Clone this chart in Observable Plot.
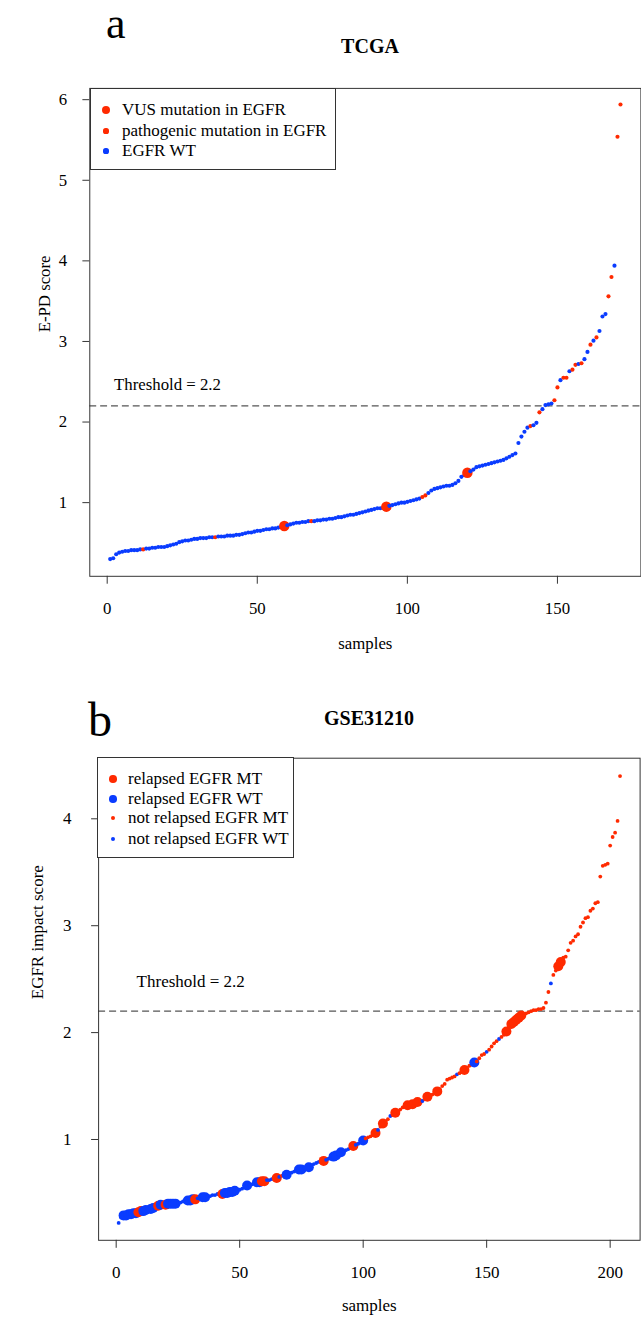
<!DOCTYPE html>
<html>
<head>
<meta charset="utf-8">
<script src="https://cdn.jsdelivr.net/npm/d3@7"></script>
<script src="https://cdn.jsdelivr.net/npm/@observablehq/plot@0.6"></script>
<style>
  html, body { margin: 0; padding: 0; background: #fff; }
  body { width: 641px; height: 1320px; position: relative; overflow: hidden; font-family: "Liberation Serif", "Times New Roman", serif; color: #000; }
  .abs { position: absolute; line-height: 0; white-space: nowrap; }
  .legend { position: absolute; border: 1px solid #333; background: #fff; box-sizing: border-box; }
  .legend .sym { position: absolute; border-radius: 50%; }
  .legend .lab { position: absolute; line-height: 0; font-size: 17px; white-space: nowrap; }
  #panelA, #panelB { position: absolute; left: 0; width: 641px; overflow: hidden; }
  #panelA { top: 0; height: 690px; }
  #panelB { top: 690px; height: 630px; }
</style>
</head>
<body>
<div id="panelA"></div>
<div id="panelB"></div>
<script>
// ---------- Panel a: TCGA (sorted E-PD scores, samples 1..171) ----------
const tcgaScores = [
  0.30,0.31,0.36,0.38,0.39,0.40,0.40,0.41,0.41,0.41,
  0.42,0.42,0.43,0.43,0.44,0.44,0.45,0.45,0.45,0.46,
  0.47,0.48,0.49,0.51,0.52,0.53,0.53,0.54,0.55,0.55,
  0.56,0.56,0.56,0.57,0.57,0.57,0.58,0.58,0.58,0.59,
  0.59,0.59,0.60,0.60,0.61,0.62,0.63,0.63,0.64,0.65,
  0.65,0.66,0.67,0.67,0.68,0.68,0.69,0.70,0.71,0.72,
  0.73,0.74,0.75,0.75,0.76,0.76,0.77,0.77,0.77,0.78,
  0.78,0.79,0.79,0.80,0.80,0.81,0.82,0.82,0.83,0.84,
  0.85,0.85,0.86,0.87,0.88,0.89,0.90,0.91,0.92,0.93,
  0.93,0.94,0.95,0.96,0.97,0.98,0.99,1.00,1.00,1.01,
  1.02,1.03,1.04,1.05,1.07,1.09,1.12,1.15,1.17,1.18,
  1.19,1.20,1.21,1.21,1.22,1.24,1.27,1.32,1.34,1.37,
  1.39,1.41,1.44,1.45,1.46,1.47,1.48,1.49,1.50,1.51,
  1.52,1.53,1.55,1.57,1.59,1.61,1.74,1.82,1.88,1.93,
  1.95,1.96,1.99,2.12,2.16,2.21,2.22,2.23,2.27,2.43,
  2.52,2.55,2.55,2.63,2.65,2.71,2.72,2.73,2.78,2.87,
  2.96,3.01,3.05,3.13,3.31,3.34,3.56,3.80,3.94,5.54,
  5.94
];
const tcgaVUS = [59, 93, 120];
const tcgaPathogenic = [12, 36, 68, 105, 106, 141, 144, 149, 150, 152, 153, 155, 156, 158, 161, 163, 167, 168, 170, 171];
const tcgaLegend = ["VUS mutation in EGFR", "pathogenic mutation in EGFR", "EGFR WT"];
const tcgaXTicks = [0, 50, 100, 150];
const tcgaYTicks = [1, 2, 3, 4, 5, 6];

// ---------- Panel b: GSE31210 (sorted EGFR impact scores, samples 1..204) ----------
const gseScores = [
  0.22,0.27,0.29,0.29,0.30,0.30,0.31,0.31,0.32,0.33,
  0.33,0.34,0.35,0.35,0.36,0.37,0.38,0.39,0.39,0.39,
  0.40,0.40,0.40,0.40,0.41,0.41,0.42,0.42,0.43,0.43,
  0.44,0.44,0.45,0.45,0.46,0.46,0.47,0.47,0.48,0.48,
  0.49,0.49,0.49,0.50,0.50,0.51,0.51,0.52,0.52,0.53,
  0.54,0.55,0.57,0.57,0.58,0.59,0.60,0.60,0.61,0.61,
  0.62,0.62,0.63,0.63,0.64,0.65,0.66,0.66,0.67,0.68,
  0.69,0.70,0.71,0.72,0.72,0.73,0.74,0.74,0.76,0.77,
  0.78,0.79,0.79,0.80,0.81,0.82,0.83,0.84,0.85,0.86,
  0.88,0.89,0.90,0.91,0.93,0.94,0.95,0.96,0.97,0.99,
  1.01,1.02,1.03,1.04,1.06,1.09,1.12,1.15,1.17,1.19,
  1.22,1.23,1.25,1.26,1.28,1.30,1.31,1.32,1.33,1.33,
  1.34,1.35,1.36,1.36,1.38,1.40,1.41,1.42,1.44,1.45,
  1.47,1.50,1.52,1.56,1.57,1.58,1.59,1.61,1.62,1.63,
  1.65,1.67,1.69,1.70,1.72,1.73,1.76,1.79,1.80,1.82,
  1.84,1.87,1.90,1.92,1.94,1.96,1.98,2.01,2.05,2.08,
  2.10,2.12,2.14,2.16,2.17,2.18,2.19,2.20,2.21,2.21,
  2.22,2.22,2.23,2.28,2.38,2.46,2.54,2.58,2.62,2.66,
  2.70,2.71,2.77,2.84,2.86,2.90,2.92,2.99,3.03,3.07,
  3.08,3.14,3.16,3.21,3.22,3.46,3.56,3.57,3.58,3.75,
  3.83,3.87,3.98,4.40
];
const gseRelapsedMT = [9,10,17,20,32,43,59,60,65,84,96,105,108,113,118,120,122,126,130,141,158,160,161,162,163,164,179,180];
const gseRelapsedWT = [3,4,5,6,7,8,11,12,14,15,18,21,22,23,24,29,30,31,35,36,44,45,46,47,48,53,57,58,69,74,75,78,88,89,91,100,145];
const gseNotRelapsedMT = [67,83,87,101,102,103,104,107,109,110,112,114,115,116,117,119,121,123,125,127,128,129,
  131,132,133,134,135,136,137,139,140,142,143,144,146,147,148,149,151,152,153,154,156,157,159,
  165,166,167,168,169,170,171,172,173,174,175,177,178,181,182,183,184,185,186,187,188,189,190,
  191,192,193,194,195,196,197,198,199,200,201,202,203,204];
const gseLegend = ["relapsed EGFR MT", "relapsed EGFR WT", "not relapsed EGFR MT", "not relapsed EGFR WT"];
const gseXTicks = [0, 50, 100, 150, 200];
const gseYTicks = [1, 2, 3, 4];

const threshold = 2.2;

// ---------- styling ----------
const RED = "#ff2a00";
const BLUE = "#0a3cff";
const FONT = "Liberation Serif";

const tcgaData = tcgaScores.map((v, k) => {
  const i = k + 1;
  const cat = tcgaVUS.includes(i) ? "VUS" : tcgaPathogenic.includes(i) ? "pathogenic" : "WT";
  return {i, v, cat};
});
const gseData = gseScores.map((v, k) => {
  const i = k + 1;
  const cat = gseRelapsedMT.includes(i) ? "RMT" : gseRelapsedWT.includes(i) ? "RWT"
            : gseNotRelapsedMT.includes(i) ? "NMT" : "NWT";
  return {i, v, cat};
});

const tcgaFill = c => c === "WT" ? BLUE : RED;
const tcgaR = c => c === "VUS" ? 5.3 : 2.1;
const gseFill = c => (c === "RMT" || c === "NMT") ? RED : BLUE;
const gseR = c => (c === "RMT" || c === "RWT") ? 5.0 : 1.9;

const baseStyle = {fontFamily: FONT, fontSize: "17px", color: "#000", background: "transparent", overflow: "visible"};
const intFmt = d => String(d);

const plotA = Plot.plot({
  width: 649, height: 690,
  marginLeft: 90.4, marginRight: 0.6, marginTop: 89, marginBottom: 107,
  x: {domain: [-5.8, 177.8]},
  y: {domain: [0.086, 6.14]},
  r: {type: "identity"},
  color: {type: "identity"},
  style: baseStyle,
  marks: [
    Plot.ruleY([threshold], {stroke: "#555", strokeWidth: 1.3, strokeDasharray: "7,4"}),
    Plot.dot(tcgaData, {x: "i", y: "v", r: d => tcgaR(d.cat), fill: d => tcgaFill(d.cat), sort: null}),
    Plot.frame({stroke: "#333"}),
    Plot.axisX({ticks: tcgaXTicks, tickFormat: intFmt, tickSize: 8, tickPadding: 18, fontSize: 17, label: null, stroke: "#333"}),
    Plot.axisY({ticks: tcgaYTicks, tickFormat: intFmt, tickSize: 7, tickPadding: 16, fontSize: 17, label: null, stroke: "#333"}),
    Plot.text([threshold], {frameAnchor: "left", y: d => d, text: d => `Threshold = ${d}`, dx: 24.6, dy: -22, textAnchor: "start", fontSize: 17}),
    Plot.text(["samples"], {frameAnchor: "bottom", text: d => d, dy: 73.6, fontSize: 17}),
    Plot.text(["E-PD score"], {frameAnchor: "left", text: d => d, dx: -45.4, rotate: -90, fontSize: 17})
  ]
});
document.getElementById("panelA").appendChild(plotA);

const plotB = Plot.plot({
  width: 641, height: 630,
  marginLeft: 98.1, marginRight: 1.4, marginTop: 67.7, marginBottom: 80.2,
  x: {domain: [-7.12, 212.12]},
  y: {domain: [0.057, 4.567]},
  r: {type: "identity"},
  color: {type: "identity"},
  style: baseStyle,
  marks: [
    Plot.ruleY([threshold], {stroke: "#555", strokeWidth: 1.3, strokeDasharray: "7,4"}),
    Plot.dot(gseData, {x: "i", y: "v", r: d => gseR(d.cat), fill: d => gseFill(d.cat), sort: null}),
    Plot.frame({stroke: "#333"}),
    Plot.axisX({ticks: gseXTicks, tickFormat: intFmt, tickSize: 8, tickPadding: 18, fontSize: 17, label: null, stroke: "#333"}),
    Plot.axisY({ticks: gseYTicks, tickFormat: intFmt, tickSize: 7, tickPadding: 20, fontSize: 17, label: null, stroke: "#333"}),
    Plot.text([threshold], {frameAnchor: "left", y: d => d, text: d => `Threshold = ${d}`, dx: 38, dy: -30, textAnchor: "start", fontSize: 17}),
    Plot.text(["samples"], {frameAnchor: "bottom", text: d => d, dy: 70.6, fontSize: 17}),
    Plot.text(["EGFR impact score"], {frameAnchor: "left", text: d => d, dx: -61, rotate: -90, fontSize: 17})
  ]
});
document.getElementById("panelB").appendChild(plotB);

// ---------- titles and panel letters ----------
function addText(txt, opts) {
  const el = document.createElement("div");
  el.className = "abs";
  el.textContent = txt;
  Object.assign(el.style, opts);
  document.body.appendChild(el);
}
// line-height 0 => baseline sits at top + 0.3375em
addText("a", {left: "106px", top: (39 - 0.3375 * 44) + "px", fontSize: "44px"});
addText("TCGA", {left: "270px", width: "200px", textAlign: "center", top: (53 - 0.3375 * 20) + "px", fontSize: "20px", fontWeight: "bold"});
addText("b", {left: "88px", top: (736 - 0.3375 * 48) + "px", fontSize: "48px"});
addText("GSE31210", {left: "269px", width: "200px", textAlign: "center", top: (725 - 0.3375 * 20) + "px", fontSize: "20px", fontWeight: "bold"});

// ---------- legends ----------
function addLegend(box, rows) {
  const lg = document.createElement("div");
  lg.className = "legend";
  Object.assign(lg.style, {left: box.left + "px", top: box.top + "px", width: box.width + "px", height: box.height + "px"});
  rows.forEach(row => {
    const s = document.createElement("div");
    s.className = "sym";
    Object.assign(s.style, {left: (box.symX - row.r) + "px", top: (row.y - row.r) + "px", width: 2 * row.r + "px", height: 2 * row.r + "px", background: row.color});
    lg.appendChild(s);
    const t = document.createElement("div");
    t.className = "lab";
    t.textContent = row.label;
    Object.assign(t.style, {left: box.textX + "px", top: row.y + "px"});
    lg.appendChild(t);
  });
  document.body.appendChild(lg);
}
addLegend({left: 90, top: 88, width: 246, height: 82, symX: 15, textX: 31}, [
  {label: tcgaLegend[0], color: RED, r: 4.3, y: 21},
  {label: tcgaLegend[1], color: RED, r: 2.6, y: 42},
  {label: tcgaLegend[2], color: BLUE, r: 2.6, y: 62}
]);
addLegend({left: 97, top: 757, width: 197, height: 101, symX: 15, textX: 30}, [
  {label: gseLegend[0], color: RED, r: 3.8, y: 21},
  {label: gseLegend[1], color: BLUE, r: 3.8, y: 41},
  {label: gseLegend[2], color: RED, r: 2.4, y: 60},
  {label: gseLegend[3], color: BLUE, r: 2.4, y: 81}
]);
</script>
</body>
</html>
